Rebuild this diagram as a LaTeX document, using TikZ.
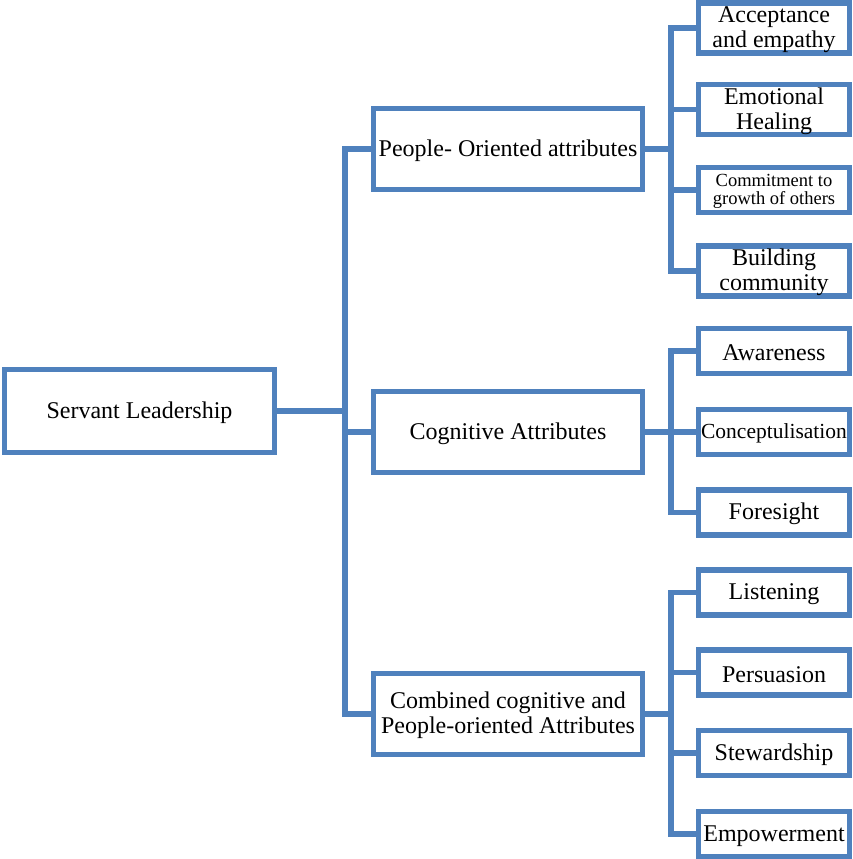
\documentclass[tikz,border=0pt]{standalone}
\usepackage{fontspec}
\setmainfont{Liberation Serif}
\definecolor{linkblue}{HTML}{4F81BD}
% invisible rule that sets the height of a label's first line
\newcommand\topline[1]{\rule{0pt}{#1}}
\begin{document}
\begin{tikzpicture}[x=1pt,y=1pt,
  conn/.style={draw=linkblue, line width=5.5pt, line join=miter},
  box/.style={draw=linkblue, line width=5.5pt, fill=white, align=center,
    inner sep=0pt, font=\fontsize{24}{25}\selectfont},
  rootbox/.style={box, minimum width=270pt, minimum height=83pt},
  midbox/.style={box, minimum width=269pt, minimum height=81pt},
  leaf/.style={box, minimum width=151pt, minimum height=45pt},
  smallleaf/.style={leaf, font=\fontsize{18.5}{18}\selectfont}]
\useasboundingbox (0,0) rectangle (853,859);

% root and the three attribute groups
\node[rootbox] (root) at (139.5,448) {\topline{20pt}Servant Leadership};
\node[midbox] (people) at (508,710) {\topline{20pt}People- Oriented attributes};
\node[midbox] (cog) at (508,427) {\topline{20pt}Cognitive Attributes};
\node[midbox] (comb) at (508,145) {\topline{19pt}Combined cognitive and\\People-oriented Attributes};

% people-oriented attributes
\node[leaf] (a1) at (774,831) {\topline{20pt}Acceptance\\and empathy};
\node[leaf] (a2) at (774,749.5) {\topline{20pt}Emotional\\Healing};
\node[smallleaf] (a3) at (774,669) {\topline{16pt}Commitment to\\growth of others};
\node[leaf] (a4) at (774,588) {\topline{20pt}Building\\community};

% cognitive attributes
\node[leaf] (b1) at (774,508) {\topline{20pt}Awareness};
\node[leaf, font=\fontsize{21.5}{24}\selectfont] (b2) at (774,427) {\topline{17.5pt}Conceptulisation};
\node[leaf] (b3) at (774,346.5) {\topline{20pt}Foresight};

% combined attributes
\node[leaf] (c1) at (774,266.5) {\topline{20pt}Listening};
\node[leaf] (c2) at (774,186.5) {\topline{20pt}Persuasion};
\node[leaf] (c3) at (774,106) {\topline{20pt}Stewardship};
\node[leaf] (c4) at (774,25) {\topline{20pt}Empowerment};

% bus lines
\coordinate (trunk) at (345,0);
\coordinate (busA) at (671,0);

% root to the three groups
\draw[conn] (root.east) -- (root.east -| trunk);
\draw[conn] (people.west) -- (people.west -| trunk) -- (comb.west -| trunk) -- (comb.west);
\draw[conn] (cog.west) -- (cog.west -| trunk);

% people-oriented branch
\draw[conn] (people.east) -- (people.east -| busA);
\draw[conn] (a1.west) -- (a1.west -| busA) -- (a4.west -| busA) -- (a4.west);
\draw[conn] (a2.west) -- (a2.west -| busA);
\draw[conn] (a3.west) -- (a3.west -| busA);

% cognitive branch
\draw[conn] (cog.east) -- (cog.east -| busA);
\draw[conn] (b1.west) -- (b1.west -| busA) -- (b3.west -| busA) -- (b3.west);
\draw[conn] (b2.west) -- (b2.west -| busA);

% combined branch
\draw[conn] (comb.east) -- (comb.east -| busA);
\draw[conn] (c1.west) -- (c1.west -| busA) -- (c4.west -| busA) -- (c4.west);
\draw[conn] (c2.west) -- (c2.west -| busA);
\draw[conn] (c3.west) -- (c3.west -| busA);
\end{tikzpicture}
\end{document}
